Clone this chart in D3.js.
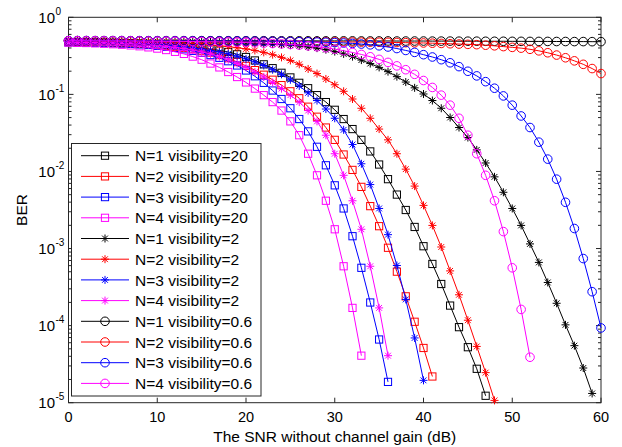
<!DOCTYPE html>
<html>
<head>
<meta charset="utf-8">
<script src="https://cdn.jsdelivr.net/npm/d3@7"></script>
<style>
  body { margin: 0; background: #fff; }
  text { font-family: "Liberation Sans", Arial, sans-serif; fill: #000; }
</style>
</head>
<body>
<svg id="chart" width="622" height="447"></svg>
<script>
// SNR grid in dB, one marker per dB
const snrDb = [0,1,2,3,4,5,6,7,8,9,10,11,12,13,14,15,16,17,18,19,20,
  21,22,23,24,25,26,27,28,29,30,31,32,33,34,35,36,37,38,39,40,
  41,42,43,44,45,46,47,48,49,50,51,52,53,54,55,56,57,58,59,60];

// BER, stored as log10(BER), starting at 0 dB
const logBer_N1_v20 = [-0.320,-0.321,-0.323,-0.325,-0.327,-0.330,-0.333,-0.337,-0.341,-0.346,
  -0.352,-0.359,-0.367,-0.376,-0.387,-0.400,-0.415,-0.430,-0.450,-0.480,
  -0.515,-0.560,-0.610,-0.660,-0.720,-0.780,-0.850,-0.920,-1.010,-1.100,
  -1.200,-1.320,-1.450,-1.590,-1.740,-1.910,-2.100,-2.300,-2.500,-2.720,
  -2.970,-3.200,-3.460,-3.740,-4.020,-4.280,-4.560,-4.910];
const logBer_N2_v20 = [-0.322,-0.324,-0.326,-0.328,-0.330,-0.333,-0.337,-0.341,-0.346,-0.352,
  -0.360,-0.370,-0.382,-0.396,-0.413,-0.433,-0.458,-0.490,-0.530,-0.580,
  -0.630,-0.685,-0.745,-0.810,-0.880,-0.960,-1.050,-1.160,-1.290,-1.430,
  -1.590,-1.780,-1.980,-2.200,-2.450,-2.710,-2.990,-3.300,-3.620,-3.950,
  -4.290,-4.660];
const logBer_N3_v20 = [-0.325,-0.327,-0.329,-0.331,-0.334,-0.337,-0.341,-0.346,-0.352,-0.360,
  -0.370,-0.382,-0.397,-0.415,-0.435,-0.460,-0.490,-0.525,-0.570,-0.625,
  -0.690,-0.765,-0.850,-0.950,-1.060,-1.180,-1.320,-1.480,-1.680,-1.920,
  -2.180,-2.480,-2.840,-3.250,-3.700,-4.180,-4.730];
const logBer_N4_v20 = [-0.328,-0.331,-0.334,-0.338,-0.343,-0.349,-0.356,-0.365,-0.376,-0.390,
  -0.406,-0.425,-0.448,-0.475,-0.510,-0.550,-0.600,-0.650,-0.710,-0.775,
  -0.845,-0.925,-1.010,-1.100,-1.210,-1.350,-1.530,-1.770,-2.050,-2.380,
  -2.750,-3.230,-3.770,-4.390];
const logBer_N1_v2 = [-0.307,-0.307,-0.307,-0.308,-0.308,-0.309,-0.309,-0.310,-0.310,-0.311,
  -0.312,-0.313,-0.314,-0.315,-0.316,-0.318,-0.320,-0.322,-0.325,-0.328,
  -0.332,-0.336,-0.341,-0.347,-0.354,-0.362,-0.372,-0.385,-0.400,-0.420,
  -0.445,-0.475,-0.510,-0.555,-0.600,-0.650,-0.705,-0.770,-0.840,-0.915,
  -0.995,-1.080,-1.180,-1.300,-1.430,-1.560,-1.720,-1.890,-2.070,-2.270,
  -2.480,-2.700,-2.940,-3.180,-3.440,-3.710,-3.990,-4.260,-4.550,-4.880];
const logBer_N2_v2 = [-0.311,-0.312,-0.313,-0.314,-0.315,-0.316,-0.318,-0.320,-0.322,-0.325,
  -0.328,-0.331,-0.335,-0.340,-0.345,-0.352,-0.360,-0.370,-0.380,-0.395,
  -0.410,-0.430,-0.455,-0.485,-0.520,-0.560,-0.610,-0.670,-0.730,-0.800,
  -0.875,-0.960,-1.060,-1.180,-1.310,-1.450,-1.590,-1.770,-1.970,-2.190,
  -2.440,-2.700,-2.980,-3.290,-3.600,-3.930,-4.270,-4.610,-4.970];
const logBer_N3_v2 = [-0.317,-0.319,-0.321,-0.323,-0.326,-0.329,-0.333,-0.337,-0.342,-0.348,
  -0.355,-0.363,-0.372,-0.383,-0.396,-0.412,-0.430,-0.450,-0.475,-0.505,
  -0.540,-0.580,-0.625,-0.680,-0.740,-0.810,-0.890,-0.980,-1.080,-1.190,
  -1.310,-1.460,-1.650,-1.900,-2.170,-2.480,-2.820,-3.220,-3.660,-4.160,
  -4.710];
const logBer_N4_v2 = [-0.322,-0.324,-0.326,-0.328,-0.331,-0.334,-0.338,-0.343,-0.349,-0.356,
  -0.365,-0.376,-0.390,-0.406,-0.425,-0.448,-0.475,-0.510,-0.550,-0.600,
  -0.650,-0.710,-0.775,-0.845,-0.925,-1.010,-1.100,-1.210,-1.350,-1.530,
  -1.770,-2.050,-2.380,-2.750,-3.230,-3.770,-4.390];
const logBer_N1_v06 = [-0.302,-0.302,-0.302,-0.302,-0.302,-0.302,-0.302,-0.303,-0.303,-0.303,
  -0.303,-0.303,-0.303,-0.303,-0.303,-0.303,-0.304,-0.304,-0.304,-0.304,
  -0.304,-0.304,-0.304,-0.305,-0.305,-0.305,-0.305,-0.305,-0.306,-0.306,
  -0.306,-0.306,-0.306,-0.307,-0.307,-0.307,-0.307,-0.308,-0.308,-0.308,
  -0.308,-0.309,-0.309,-0.309,-0.310,-0.310,-0.310,-0.311,-0.311,-0.311,
  -0.312,-0.312,-0.313,-0.313,-0.313,-0.314,-0.314,-0.315,-0.315,-0.316,
  -0.316];
const logBer_N2_v06 = [-0.304,-0.304,-0.305,-0.305,-0.305,-0.306,-0.306,-0.306,-0.307,-0.307,
  -0.307,-0.308,-0.308,-0.309,-0.309,-0.310,-0.310,-0.311,-0.311,-0.312,
  -0.312,-0.313,-0.313,-0.314,-0.315,-0.315,-0.316,-0.317,-0.317,-0.318,
  -0.319,-0.320,-0.321,-0.322,-0.323,-0.324,-0.325,-0.327,-0.329,-0.331,
  -0.333,-0.336,-0.339,-0.343,-0.347,-0.351,-0.355,-0.362,-0.370,-0.380,
  -0.390,-0.400,-0.415,-0.435,-0.460,-0.490,-0.525,-0.565,-0.610,-0.665,
  -0.730];
const logBer_N3_v06 = [-0.303,-0.303,-0.303,-0.304,-0.304,-0.304,-0.304,-0.305,-0.305,-0.305,
  -0.305,-0.306,-0.306,-0.306,-0.306,-0.307,-0.307,-0.307,-0.307,-0.307,
  -0.308,-0.309,-0.310,-0.311,-0.312,-0.314,-0.316,-0.318,-0.321,-0.324,
  -0.328,-0.333,-0.339,-0.347,-0.357,-0.370,-0.385,-0.405,-0.430,-0.455,
  -0.485,-0.515,-0.550,-0.590,-0.640,-0.700,-0.760,-0.835,-0.920,-1.020,
  -1.140,-1.280,-1.430,-1.620,-1.840,-2.100,-2.400,-2.740,-3.130,-3.560,
  -4.030];
const logBer_N4_v06 = [-0.304,-0.304,-0.305,-0.305,-0.306,-0.306,-0.307,-0.307,-0.308,-0.309,
  -0.310,-0.311,-0.312,-0.313,-0.314,-0.316,-0.318,-0.320,-0.322,-0.325,
  -0.328,-0.331,-0.335,-0.340,-0.345,-0.352,-0.360,-0.370,-0.382,-0.396,
  -0.413,-0.433,-0.456,-0.482,-0.512,-0.546,-0.585,-0.630,-0.680,-0.740,
  -0.820,-0.910,-1.010,-1.140,-1.310,-1.530,-1.770,-2.050,-2.380,-2.780,
  -3.250,-3.790,-4.410];

const xTicks = [0, 10, 20, 30, 40, 50, 60];
const yExponents = [0, -1, -2, -3, -4, -5];

// legend order = drawing order
const series = [
  { label: "N=1 visibility=20",  color: "#000000", marker: "square", logBer: logBer_N1_v20 },
  { label: "N=2 visibility=20",  color: "#ff0000", marker: "square", logBer: logBer_N2_v20 },
  { label: "N=3 visibility=20",  color: "#0000ff", marker: "square", logBer: logBer_N3_v20 },
  { label: "N=4 visibility=20",  color: "#ff00ff", marker: "square", logBer: logBer_N4_v20 },
  { label: "N=1 visibility=2",   color: "#000000", marker: "star",   logBer: logBer_N1_v2 },
  { label: "N=2 visibility=2",   color: "#ff0000", marker: "star",   logBer: logBer_N2_v2 },
  { label: "N=3 visibility=2",   color: "#0000ff", marker: "star",   logBer: logBer_N3_v2 },
  { label: "N=4 visibility=2",   color: "#ff00ff", marker: "star",   logBer: logBer_N4_v2 },
  { label: "N=1 visibility=0.6", color: "#000000", marker: "circle", logBer: logBer_N1_v06 },
  { label: "N=2 visibility=0.6", color: "#ff0000", marker: "circle", logBer: logBer_N2_v06 },
  { label: "N=3 visibility=0.6", color: "#0000ff", marker: "circle", logBer: logBer_N3_v06 },
  { label: "N=4 visibility=0.6", color: "#ff00ff", marker: "circle", logBer: logBer_N4_v06 }
];

const plot = { left: 68.5, right: 601, top: 17.3, bottom: 402.7 };
const axisColor = "#262626";

const svg = d3.select("#chart");

const x = d3.scaleLinear().domain([0, 60]).range([plot.left, plot.right]);
const y = d3.scaleLog().domain([1e-5, 1]).range([plot.bottom, plot.top]);

// draw one marker of the given type centred at (cx, cy)
function drawMarker(g, type, cx, cy, color) {
  if (type === "square") {
    g.append("rect")
      .attr("x", cx - 3.6).attr("y", cy - 3.6)
      .attr("width", 7.2).attr("height", 7.2)
      .attr("fill", "none").attr("stroke", color).attr("stroke-width", 1);
  } else if (type === "circle") {
    g.append("circle")
      .attr("cx", cx).attr("cy", cy).attr("r", 4.3)
      .attr("fill", "none").attr("stroke", color).attr("stroke-width", 1);
  } else {
    const a = 4, d = 2.9;
    g.append("path")
      .attr("d", `M${cx - a},${cy}H${cx + a}M${cx},${cy - a}V${cy + a}` +
                 `M${cx - d},${cy - d}L${cx + d},${cy + d}M${cx - d},${cy + d}L${cx + d},${cy - d}`)
      .attr("fill", "none").attr("stroke", color).attr("stroke-width", 1);
  }
}

// axes frame
svg.append("rect")
  .attr("x", plot.left).attr("y", plot.top)
  .attr("width", plot.right - plot.left).attr("height", plot.bottom - plot.top)
  .attr("fill", "#fff").attr("stroke", axisColor).attr("stroke-width", 1);

// x ticks, inward on bottom and top
const ticks = svg.append("g").attr("stroke", axisColor).attr("stroke-width", 1);
xTicks.forEach(t => {
  ticks.append("line").attr("x1", x(t)).attr("x2", x(t))
    .attr("y1", plot.bottom).attr("y2", plot.bottom - 5);
  ticks.append("line").attr("x1", x(t)).attr("x2", x(t))
    .attr("y1", plot.top).attr("y2", plot.top + 5);
});

// y ticks (decades plus log minor ticks), inward on left and right
yExponents.forEach(e => {
  const major = Math.pow(10, e);
  [plot.left, plot.right].forEach((px, side) => {
    const dir = side === 0 ? 1 : -1;
    ticks.append("line").attr("x1", px).attr("x2", px + dir * 5)
      .attr("y1", y(major)).attr("y2", y(major));
    if (e < 0) {
      for (let m = 2; m <= 9; m++) {
        const v = m * major;
        ticks.append("line").attr("x1", px).attr("x2", px + dir * 3)
          .attr("y1", y(v)).attr("y2", y(v));
      }
    }
  });
});

// tick labels
xTicks.forEach(t => {
  svg.append("text")
    .attr("x", x(t)).attr("y", plot.bottom + 19)
    .attr("text-anchor", "middle").attr("font-size", "14.5px")
    .text(t);
});
yExponents.forEach(e => {
  const py = y(Math.pow(10, e));
  svg.append("text")
    .attr("x", 55).attr("y", py + 5.5)
    .attr("text-anchor", "end").attr("font-size", "15px")
    .text("10");
  svg.append("text")
    .attr("x", 55.5).attr("y", py - 2.5)
    .attr("font-size", "10px")
    .text(e);
});

// axis titles
svg.append("text")
  .attr("x", (plot.left + plot.right) / 2).attr("y", 441.5)
  .attr("text-anchor", "middle").attr("font-size", "15.5px")
  .text("The SNR without channel gain (dB)");
svg.append("text")
  .attr("transform", "translate(27,210) rotate(-90)")
  .attr("text-anchor", "middle").attr("font-size", "15.5px")
  .text("BER");

// curves
const line = d3.line()
  .x((d, i) => x(snrDb[i]))
  .y(d => y(Math.pow(10, d)));

series.forEach(s => {
  const g = svg.append("g");
  g.append("path")
    .attr("d", line(s.logBer))
    .attr("fill", "none").attr("stroke", s.color).attr("stroke-width", 1);
  s.logBer.forEach((v, i) => drawMarker(g, s.marker, x(snrDb[i]), y(Math.pow(10, v)), s.color));
});

// legend
const legend = svg.append("g");
const legendBox = { x: 71.5, y: 143.5, w: 189.5, h: 252.5 };
legend.append("rect")
  .attr("x", legendBox.x).attr("y", legendBox.y)
  .attr("width", legendBox.w).attr("height", legendBox.h)
  .attr("fill", "#fff").attr("stroke", axisColor).attr("stroke-width", 1);

series.forEach((s, i) => {
  const cy = 155.7 + i * 20.7;
  legend.append("line")
    .attr("x1", 81).attr("x2", 129).attr("y1", cy).attr("y2", cy)
    .attr("stroke", s.color).attr("stroke-width", 1);
  drawMarker(legend, s.marker, 105, cy, s.color);
  legend.append("text")
    .attr("x", 135).attr("y", cy + 5.6)
    .attr("font-size", "15.5px")
    .text(s.label);
});
</script>
</body>
</html>
